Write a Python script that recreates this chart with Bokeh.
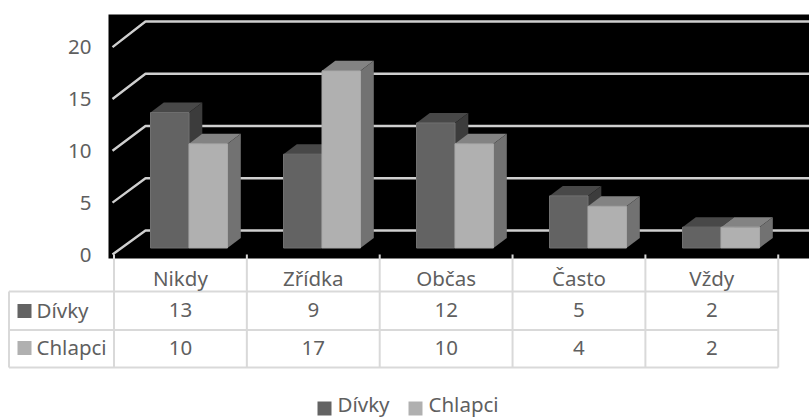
from bokeh.core.properties import value
from bokeh.embed import file_html
from bokeh.models import Range1d
from bokeh.plotting import figure
from bokeh.resources import INLINE

categories = ["Nikdy", "Zřídka", "Občas", "Často", "Vždy"]
divky = [13, 9, 12, 5, 2]
chlapci = [10, 17, 10, 4, 2]
value_ticks = [0, 5, 10, 15, 20]
series_names = ["Dívky", "Chlapci"]

W, H = 809, 417
FONT = value("Noto Sans")
SIZE = "20.5px"
TEXT = "#5f5f5f"
RULE = "#d9d9d9"
GRID = "#cfcfcf"

# Page layout: one category band on the x axis, one count on the bars' y axis
BAND = 132.85
TABLE_X0 = 113.5
UNIT = 10.42
BAR_BASE = 247.5


def ux(px):
    return (px - TABLE_X0) / BAND


def uy(px):
    return (BAR_BASE - px) / UNIT


p = figure(
    width=W, height=H, output_backend="svg", toolbar_location=None,
    x_range=Range1d(ux(0), ux(W)), y_range=Range1d(uy(H), uy(0)),
    min_border=0, outline_line_color=None,
)
p.axis.visible = False
p.grid.visible = False
p.background_fill_color = "white"
p.border_fill_color = "white"

# Dark plot wall
p.quad(left=[ux(108)], right=[ux(W)], top=[uy(14)], bottom=[uy(258)],
       fill_color="black", line_color=None)

# Gridlines: floor-to-back diagonal, then along the back wall
FRONT_0, FRONT_UNIT = 254.0, 10.37
BACK_0, BACK_UNIT = 230.0, 10.45
for t in value_ticks:
    p.line([ux(112), ux(145), ux(W)],
           [uy(FRONT_0 - t * FRONT_UNIT), uy(BACK_0 - t * BACK_UNIT), uy(BACK_0 - t * BACK_UNIT)],
           line_color=GRID, line_width=2.4)

# Value axis labels
p.text(x=[ux(91)] * len(value_ticks),
       y=[uy(FRONT_0 - t * FRONT_UNIT) for t in value_ticks],
       text=[str(t) for t in value_ticks],
       text_font=FONT, text_font_size=SIZE, text_color=TEXT,
       text_align="right", text_baseline="middle")

# 3D columns: front face, top face and side face per series
BAR_W = 38.5 / BAND
DX = 13.3 / BAND
DY = 10.0 / UNIT
FIRST = ux(150)
STYLES = [("#636363", "#484848", "#3c3c3c", "#707070"),
          ("#b0b0b0", "#838383", "#727272", "#a8a8a8")]

for i in range(len(categories)):
    left = FIRST + i * (133.0 / BAND)
    for s, series in enumerate((divky, chlapci)):
        front, top, side, edge = STYLES[s]
        x0 = left + s * BAR_W
        x1 = x0 + BAR_W
        v = series[i]
        p.patch([x0, x0 + DX, x1 + DX, x1], [v, v + DY, v + DY, v], fill_color=top, line_color=None)
        p.patch([x1, x1 + DX, x1 + DX, x1], [0, DY, v + DY, v], fill_color=side, line_color=None)
        p.quad(left=[x0], right=[x1], bottom=[0], top=[v],
               fill_color=front, line_color=edge, line_width=1)

# Data table rules
TABLE_ROWS = [291, 329.5, 367]
for y in TABLE_ROWS:
    p.line([ux(8.5), ux(TABLE_X0 + BAND * len(categories))], [uy(y), uy(y)],
           line_color=RULE, line_width=2)
p.line([ux(8.5), ux(8.5)], [uy(291), uy(367)], line_color=RULE, line_width=2)
for i in range(len(categories) + 1):
    p.line([i, i], [uy(254), uy(367)], line_color=RULE, line_width=2)

# Table header and cells
centers = [i + 0.5 for i in range(len(categories))]
p.text(x=centers, y=[uy(277)] * 5, text=categories, text_font=FONT, text_font_size=SIZE,
       text_color=TEXT, text_align="center", text_baseline="middle")
for y_px, series in ((309.5, divky), (347, chlapci)):
    p.text(x=centers, y=[uy(y_px)] * 5, text=[str(v) for v in series], text_font=FONT,
           text_font_size=SIZE, text_color=TEXT, text_align="center", text_baseline="middle")

# Series keys inside the table and in the legend under it
KEYS = ["#636363", "#b0b0b0"]
for name, colour, y_px in zip(series_names, KEYS, (310.5, 347.5)):
    p.quad(left=[ux(17)], right=[ux(31)], top=[uy(y_px - 7)], bottom=[uy(y_px + 7)],
           fill_color=colour, line_color=None)
    p.text(x=[ux(36)], y=[uy(y_px - 1)], text=[name], text_font=FONT, text_font_size=SIZE,
           text_color=TEXT, text_align="left", text_baseline="middle")
for name, colour, x_px in zip(series_names, KEYS, (317, 408)):
    p.quad(left=[ux(x_px)], right=[ux(x_px + 14)], top=[uy(401)], bottom=[uy(415)],
           fill_color=colour, line_color=None)
    p.text(x=[ux(x_px + 20)], y=[uy(403)], text=[name], text_font=FONT, text_font_size=SIZE,
           text_color=TEXT, text_align="left", text_baseline="middle")

open("out.html", "w").write(file_html(p, INLINE))
